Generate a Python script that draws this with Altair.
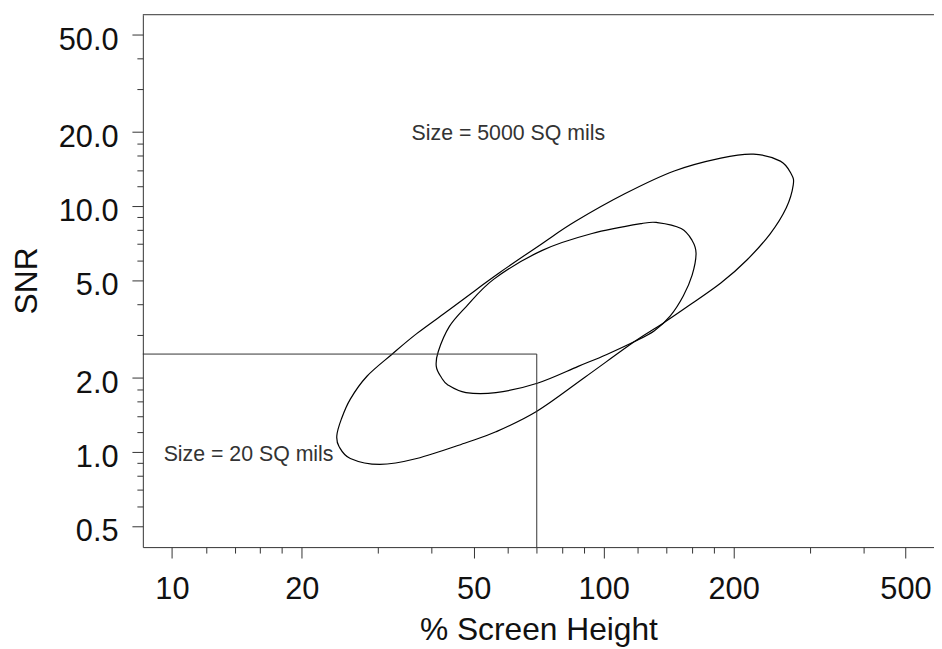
import altair as alt
import pandas as pd

# ---- values ----
outer_x = [24.1, 24.7, 25.9, 28.3, 32.3, 36.9, 43.9, 50.6, 57.15, 72.1, 85.9, 111.9, 145.7,
           186.8, 222.4, 256.6, 272.0, 274.9, 264.9, 243.3, 214.4, 186.8, 156.1, 136.8,
           117.9, 90.5, 70.2, 56.3, 48.0, 36.9, 30.3, 25.9, 24.4]
outer_y = [1.163, 1.362, 1.640, 2.031, 2.491, 3.027, 3.783, 4.555, 5.333, 7.047, 8.644, 11.21, 13.88,
           15.66, 16.25, 15.23, 13.50, 12.19, 9.84, 7.73, 6.018, 4.861, 3.89, 3.322,
           2.811, 2.012, 1.467, 1.207, 1.090, 0.940, 0.889, 0.940, 1.05]

inner_x = [40.96, 41.4, 43.9, 48.0, 55.7, 72.1, 94.0, 122.4, 133.2, 151.2, 160.3, 163.7,
           160.3, 152.9, 142.7, 131.1, 117.9, 101.7, 87.3, 70.2, 56.3, 48.0, 43.65, 42.06]
inner_y = [2.228, 2.562, 3.232, 3.89, 5.044, 6.603, 7.73, 8.485, 8.565, 8.10, 7.245, 6.42,
           5.236, 4.309, 3.578, 3.113, 2.811, 2.491, 2.228, 1.903, 1.742, 1.742, 1.868, 2.012]

box_x = [5, 70, 70]
box_y = [2.5, 2.5, 0.2]

x_major = [10, 20, 50, 100, 200, 500]
x_minor = [12, 14, 16, 18, 30, 40, 60, 70, 80, 90, 120, 140, 160, 180, 300, 400]
y_major = [0.5, 1, 2, 5, 10, 20, 50]
y_minor = [0.6, 0.7, 0.8, 0.9, 1.2, 1.4, 1.6, 1.8, 3, 4, 6, 7, 8, 9, 12, 14, 16, 18, 30, 40]

note_text = ["Size = 5000 SQ mils", "Size = 20 SQ mils"]
note_x = [35.9, 9.57]
note_y = [19.56, 0.972]

x_domain = [8.565, 582.3]
y_domain = [0.41, 60]

FONT = "Liberation Sans"

# ---- tables ----
rows = []
for i, (x, y) in enumerate(zip(outer_x, outer_y)):
    rows.append({"shape": "outer", "i": i, "x": x, "y": y})
for i, (x, y) in enumerate(zip(inner_x, inner_y)):
    rows.append({"shape": "inner", "i": i, "x": x, "y": y})
ell_df = pd.DataFrame(rows)
box_df = pd.DataFrame({"i": list(range(len(box_x))), "x": box_x, "y": box_y})
note_df = pd.DataFrame({"t": note_text, "x": note_x, "y": note_y})

xs = alt.Scale(type="log", domain=x_domain, nice=False)
ys = alt.Scale(type="log", domain=y_domain, nice=False)

x_axis = alt.Axis(values=x_major, format=".0f", orient="bottom", grid=False,
                  title="% Screen Height", titleFont=FONT, titleFontSize=32,
                  titleFontWeight="normal", titleColor="#111", titleY=93,
                  titleBaseline="alphabetic",
                  labelFont=FONT, labelFontSize=31, labelColor="#111",
                  labelPadding=17, labelFlush=False, labelOverlap=False,
                  tickSize=11, tickColor="#333", domainColor="#333")
y_axis = alt.Axis(values=y_major, format=".1f", orient="left", grid=False,
                  title="SNR", titleFont=FONT, titleFontSize=32,
                  titleFontWeight="normal", titleColor="#111",
                  titleX=-107, titleY=268, titleBaseline="alphabetic",
                  labelFont=FONT, labelFontSize=31, labelColor="#111",
                  labelBaseline="alphabetic", labelOffset=15,
                  labelPadding=14, labelOverlap=False,
                  tickSize=11, tickColor="#333", domainColor="#333")
x_minor_axis = alt.Axis(values=x_minor, orient="bottom", labels=False, grid=False,
                        domain=False, tickSize=6, tickColor="#333", title=None)
y_minor_axis = alt.Axis(values=y_minor, orient="left", labels=False, grid=False,
                        domain=False, tickSize=6, tickColor="#333", title=None)

ellipses = alt.Chart(ell_df).mark_line(
    interpolate="cardinal-closed", color="#000", strokeWidth=1.2
).encode(
    x=alt.X("x:Q", scale=xs, axis=x_axis),
    y=alt.Y("y:Q", scale=ys, axis=y_axis),
    detail="shape:N",
    order="i:Q",
)

box = alt.Chart(box_df).mark_line(color="#333", strokeWidth=1, clip=True).encode(
    x=alt.X("x:Q", scale=xs, axis=x_minor_axis),
    y=alt.Y("y:Q", scale=ys, axis=y_minor_axis),
    order="i:Q",
)

notes = alt.Chart(note_df).mark_text(
    align="left", baseline="middle", font=FONT, fontSize=21.5, color="#333"
).encode(
    x=alt.X("x:Q", scale=xs, axis=None),
    y=alt.Y("y:Q", scale=ys, axis=None),
    text="t:N",
)

frame = alt.Chart(pd.DataFrame({"k": [0]})).mark_rule(color="#333", strokeWidth=1).encode(
    x=alt.value(0), x2=alt.value(798), y=alt.value(0)
)

chart = alt.layer(ellipses, box, notes, frame).resolve_axis(
    x="independent", y="independent"
).properties(
    width=798, height=537,
    autosize=alt.AutoSizeParams(type="none"),
    padding={"left": 136, "top": 4, "right": 0, "bottom": 100},
).configure_view(strokeWidth=0)

chart.save("out.html", embed_options={"renderer": "svg", "actions": False})
